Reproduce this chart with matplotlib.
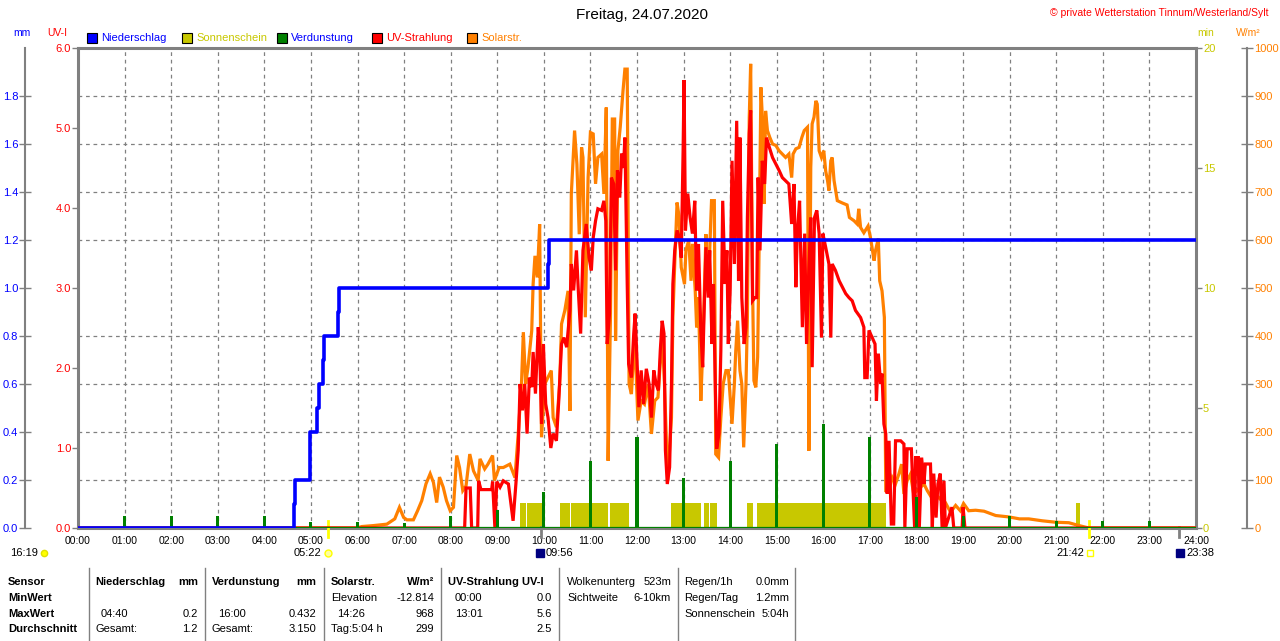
import numpy as np
import matplotlib
matplotlib.use("Agg")
import matplotlib.pyplot as plt
from matplotlib.patches import Rectangle
from matplotlib.lines import Line2D
from matplotlib.ticker import MultipleLocator, FixedLocator

plt.rcParams['font.family'] = ['Liberation Sans', 'DejaVu Sans']

# --- Daten ---
# Solarstrahlung W/m2
sol_t = [0, 6.0, 6.09, 6.34, 6.63, 6.8, 6.9, 6.99, 7.06, 7.2, 7.29, 7.38, 7.47, 7.56, 7.63, 7.7, 7.76,
         7.84, 7.91, 7.99, 8.06, 8.13, 8.19, 8.26, 8.33, 8.41, 8.49, 8.59, 8.63, 8.73, 8.8, 8.9, 8.94,
         9.04, 9.13, 9.27, 9.38, 9.45, 9.52, 9.56, 9.61, 9.66, 9.74, 9.77, 9.81, 9.86, 9.91, 9.95,
         10.02, 10.09, 10.16, 10.2, 10.27, 10.34, 10.38, 10.45, 10.52, 10.56, 10.59, 10.63, 10.66,
         10.71, 10.76, 10.81, 10.84, 10.89, 10.95, 11.0, 11.06, 11.11, 11.16, 11.24, 11.29, 11.34,
         11.38, 11.43, 11.47, 11.52, 11.54, 11.59, 11.64, 11.7, 11.74, 11.79, 11.83, 11.88, 11.95,
         12.02, 12.09, 12.16, 12.24, 12.31, 12.38, 12.45, 12.54, 12.59, 12.66, 12.74, 12.77, 12.82,
         12.86, 12.9, 12.95, 13.02, 13.05, 13.11, 13.16, 13.19, 13.25, 13.28, 13.32, 13.37, 13.41,
         13.48, 13.51, 13.55, 13.6, 13.66, 13.69, 13.75, 13.8, 13.85, 13.91, 13.96, 13.99, 14.04,
         14.09, 14.12, 14.16, 14.21, 14.25, 14.29, 14.34, 14.37, 14.41, 14.44, 14.48, 14.51, 14.55,
         14.59, 14.62, 14.66, 14.69, 14.73, 14.76, 14.8, 14.85, 14.91, 14.98, 15.05, 15.12, 15.19,
         15.26, 15.32, 15.35, 15.41, 15.48, 15.54, 15.59, 15.66, 15.69, 15.73, 15.76, 15.8, 15.84,
         15.87, 15.91, 15.96, 16.01, 16.05, 16.09, 16.12, 16.16, 16.19, 16.23, 16.3, 16.41, 16.51,
         16.56, 16.66, 16.73, 16.76, 16.8, 16.87, 16.96, 17.01, 17.09, 17.12, 17.18, 17.21, 17.26,
         17.31, 17.34, 17.41, 17.48, 17.55, 17.62, 17.68, 17.73, 17.8, 17.87, 17.94, 18.01, 18.09,
         18.16, 18.23, 18.3, 18.41, 18.51, 18.62, 18.73, 18.84, 18.94, 19.01, 19.12, 19.27, 19.45,
         19.7, 19.99, 20.21, 20.41, 20.7, 20.99, 21.27, 21.49, 21.66, 21.7, 24]
sol_v = [0, 0, 3, 5, 8, 19, 43, 22, 17, 17, 36, 57, 92, 113, 95, 53, 106,
         85, 57, 36, 43, 151, 126, 78, 88, 154, 119, 99, 144, 123, 133, 151, 99,
         126, 126, 133, 105, 196, 300, 408, 300, 335, 411, 508, 567, 522, 633, 189,
         300, 314, 328, 230, 210, 300, 425, 453, 494, 244, 696, 772, 828,
         758, 612, 793, 772, 439, 730, 824, 821, 717, 772, 779, 696, 876,
         140, 439, 852, 852, 390, 786, 835, 911, 956, 956, 300, 279, 404,
         224, 265, 258, 300, 196, 265, 272, 404, 300, 99, 230, 439, 578,
         678, 651, 543, 508, 578, 599, 515, 592, 494, 418, 481, 265, 369,
         612, 501, 550, 682, 682, 154, 147, 230, 300, 328, 328, 286, 217,
         300, 369, 432, 328, 300, 168, 300, 439, 856, 967, 508, 307, 293,
         356, 578, 918, 856, 675, 869, 828, 814, 800, 797, 786, 779, 772,
         779, 730, 779, 790, 793, 814, 828, 835, 161, 751, 842, 856, 890,
         883, 786, 772, 786, 744, 724, 703, 765, 772, 724, 682, 677, 673,
         647, 640, 633, 665, 626, 615, 629, 606, 557, 578, 603, 515, 494,
         439, 78, 78, 105, 92, 112, 133, 71, 99, 112, 71, 78, 85,
         92, 78, 67, 71, 60, 53, 33, 47, 36, 51, 36, 37, 35,
         26, 23, 19, 19, 15, 12, 11, 5, 1, 0, 0]

# UV-Index
uv_t = [0, 8.3, 8.33, 8.42, 8.45, 8.58, 8.6, 8.65, 8.88, 8.9, 8.95, 8.99, 9.06, 9.13, 9.24, 9.34,
        9.4, 9.45, 9.49, 9.54, 9.59, 9.64, 9.69, 9.74, 9.77, 9.82, 9.88, 9.91, 9.95, 9.99, 10.04,
        10.09, 10.15, 10.2, 10.27, 10.32, 10.38, 10.43, 10.49, 10.56, 10.59, 10.64, 10.7, 10.74,
        10.79, 10.84, 10.91, 10.97, 11.02, 11.06, 11.11, 11.16, 11.24, 11.29, 11.33, 11.36, 11.41,
        11.45, 11.5, 11.54, 11.58, 11.63, 11.67, 11.71, 11.74, 11.79, 11.82, 11.88, 11.93, 11.96,
        12.0, 12.04, 12.09, 12.14, 12.2, 12.26, 12.31, 12.36, 12.41, 12.46, 12.5, 12.54, 12.58,
        12.61, 12.65, 12.7, 12.74, 12.77, 12.81, 12.86, 12.91, 12.95, 12.99, 13.01, 13.04, 13.09,
        13.14, 13.19, 13.24, 13.28, 13.32, 13.37, 13.41, 13.44, 13.48, 13.53, 13.56, 13.61, 13.64,
        13.68, 13.71, 13.76, 13.8, 13.84, 13.89, 13.93, 13.96, 14.0, 14.04, 14.09, 14.14, 14.18,
        14.21, 14.25, 14.3, 14.34, 14.37, 14.41, 14.44, 14.48, 14.53, 14.57, 14.6, 14.64, 14.69,
        14.74, 14.78, 14.84, 14.91, 14.98, 15.05, 15.12, 15.19, 15.26, 15.32, 15.37, 15.41, 15.44,
        15.49, 15.55, 15.6, 15.64, 15.69, 15.73, 15.76, 15.81, 15.86, 15.91, 15.96, 15.99, 16.05,
        16.12, 16.16, 16.19, 16.26, 16.34, 16.41, 16.48, 16.55, 16.62, 16.69, 16.8, 16.87, 16.89,
        16.94, 16.98, 17.05, 17.11, 17.14, 17.18, 17.23, 17.26, 17.3, 17.34, 17.37, 17.41, 17.46,
        17.51, 17.55, 17.66, 17.73, 17.75, 17.8, 17.89, 17.92, 17.96, 17.98, 18.04, 18.06, 18.11,
        18.16, 18.19, 18.3, 18.34, 18.37, 18.42, 18.46, 18.51, 18.55, 18.59, 18.62, 18.76, 18.8,
        18.98, 19.0, 19.04, 24]
uv_v = [0, 0, 0.5, 0.5, 0, 0, 0.59, 0.48, 0.48, 0.58, 0, 0.58, 0.51, 0.59, 0.55, 0.09,
        0.55, 0.97, 1.8, 1.47, 1.8, 1.18, 1.88, 1.76, 2.2, 1.68, 2.51, 2.26, 1.3, 2.3, 1.55,
        1.38, 1.0, 1.18, 1.09, 1.59, 2.3, 2.38, 2.26, 2.72, 3.3, 2.97, 3.47, 2.97,
        2.43, 3.47, 3.8, 3.38, 3.22, 3.63, 3.84, 3.99, 3.97, 4.09, 3.84, 2.3, 2.68,
        4.38, 4.3, 3.22, 4.47, 4.13, 4.68, 4.5, 4.88, 3.05, 2.05, 1.88, 2.43, 2.68,
        2.09, 1.51, 1.97, 1.55, 1.99, 1.8, 1.38, 1.97, 1.8, 1.72, 2.22, 2.59, 2.43,
        0.97, 0.55, 0.76, 1.8, 3.05, 3.47, 3.72, 3.63, 3.38, 4.72, 5.6, 3.72, 4.18,
        3.88, 3.68, 4.09, 2.97, 3.55, 2.47, 2.01, 2.68, 3.51, 2.88, 3.47, 2.3, 3.05,
        1.8, 0.99, 1.18, 2.22, 4.09, 3.05, 3.47, 2.3, 2.97, 4.59, 3.3, 5.09, 3.09,
        4.88, 2.88, 2.3, 2.51, 3.88, 4.93, 5.22, 2.84, 2.88, 2.88, 4.38, 3.47, 4.59,
        4.3, 4.88, 4.76, 4.63, 4.55, 4.47, 4.38, 4.34, 4.3, 3.8, 4.3, 3.01, 3.68,
        4.09, 2.51, 3.68, 2.3, 3.26, 3.88, 2.01, 3.88, 3.97, 3.68, 2.38, 3.68, 3.51,
        3.3, 2.38, 3.3, 3.22, 3.09, 3.01, 2.93, 2.88, 2.84, 2.72, 2.63, 2.51, 1.88,
        1.88, 2.47, 2.38, 2.3, 1.59, 2.18, 1.8, 1.93, 1.3, 1.18, 0.43, 1.09, 0.05,
        0.05, 1.09, 1.09, 1.05, 0, 0.99, 0.99, 0.55, 0, 0.88, 0.88, 0, 0.88,
        0.55, 0.8, 0.8, 0, 0.68, 0.13, 0.55, 0.68, 0, 0.59, 0, 0.26, 0,
        0, 0.26, 0, 0]

# Niederschlag (Tagessumme, mm)
rain_t = [0, 4.63, 4.66, 4.97, 4.99, 5.14, 5.17, 5.25, 5.29, 5.58, 5.61, 10.08, 10.12, 24]
rain_v = [0, 0.1, 0.2, 0.3, 0.4, 0.5, 0.6, 0.7, 0.8, 0.9, 1.0, 1.1, 1.2, 1.2]

# Verdunstung (mm)
evap_t = list(range(1, 24))
evap_v = [0.05, 0.05, 0.05, 0.05, 0.025, 0.025, 0.022, 0.05, 0.075, 0.15, 0.28, 0.38, 0.21,
          0.28, 0.35, 0.432, 0.38, 0.13, 0.05, 0.05, 0.03, 0.03, 0.03]

# Sonnenschein (min)
sun_start = [9.486, 9.643, 10.343, 10.579, 11.414, 12.74, 13.429, 13.564, 14.364, 14.586, 21.43]
sun_end = [9.607, 9.971, 10.557, 11.386, 11.829, 13.379, 13.55, 13.714, 14.486, 17.336, 21.5]
sun_min = [1.04] * len(sun_start)

# Auf-/Untergang
ev_sun = [5 + 22 / 60, 21 + 42 / 60]
ev_moon = [9 + 56 / 60, 23 + 38 / 60]

hours = list(range(25))
hour_labels = [f"{h:02d}:00" for h in hours]

BLUE = '#0000ff'; RED = '#ff0000'; ORANGE = '#ff8000'
OLIVE = '#c8c800'; GREEN = '#008000'; GRAY = '#808080'

W, H = 1280, 641
fig = plt.figure(figsize=(12.8, 6.41), dpi=100)
def P(x, y):
    return (x / W, 1 - y / H)

ax = fig.add_axes([78 / W, 1 - 528 / H, (1196 - 78) / W, 480 / H])
ax.set_xlim(0, 24); ax.set_ylim(0, 20)
ax.xaxis.set_major_locator(FixedLocator(hours))
ax.set_xticklabels(hour_labels)
ax.yaxis.set_major_locator(FixedLocator([0, 5, 10, 15, 20]))
ax.yaxis.set_minor_locator(MultipleLocator(2))
ax.grid(which='minor', axis='y', color=GRAY, ls=(0, (3, 3)), lw=0.9)
ax.grid(which='major', axis='x', color=GRAY, ls=(0, (3, 3)), lw=0.9)
for s in ax.spines.values():
    s.set_color(GRAY); s.set_linewidth(2.2)
ax.bar(sun_start, sun_min, width=np.array(sun_end) - np.array(sun_start), align='edge',
       color=OLIVE, zorder=2)

# Solarstrahlung
ax_w = ax.twinx()
ax_w.set_ylim(0, 1000)
for k, s in ax_w.spines.items():
    s.set_visible(k == 'right')
ax_w.spines['right'].set_position(('outward', 37))
ax_w.spines['right'].set_color(GRAY); ax_w.spines['right'].set_linewidth(1.5)
ax_w.yaxis.set_major_locator(MultipleLocator(100))
ax_w.tick_params(axis='y', direction='inout', length=8, width=1, color=GRAY, labelcolor=ORANGE,
                 labelsize=8, pad=1)
ax_w.plot(sol_t, sol_v, color=ORANGE, lw=2.3, solid_joinstyle='miter')

# UV
ax_uv = ax.twinx()
ax_uv.set_ylim(0, 6)
for s in ax_uv.spines.values():
    s.set_visible(False)
ax_uv.yaxis.tick_left(); ax_uv.yaxis.set_label_position('left')
ax_uv.yaxis.set_major_locator(MultipleLocator(1))
ax_uv.yaxis.set_major_formatter(lambda v, p: f"{v:.1f}")
ax_uv.tick_params(axis='y', length=4, width=1, color=GRAY, labelcolor=RED, labelsize=8, pad=1)
ax_uv.plot(uv_t, uv_v, color=RED, lw=2.3, solid_joinstyle='miter')

# Niederschlag / Verdunstung
ax_mm = ax.twinx()
ax_mm.set_ylim(0, 2.0)
for k, s in ax_mm.spines.items():
    s.set_visible(k == 'left')
ax_mm.spines['left'].set_position(('outward', 38))
ax_mm.spines['left'].set_color(GRAY); ax_mm.spines['left'].set_linewidth(1.5)
ax_mm.yaxis.tick_left(); ax_mm.yaxis.set_label_position('left')
ax_mm.yaxis.set_major_locator(FixedLocator(np.round(np.arange(0, 1.81, 0.2), 1)))
ax_mm.yaxis.set_major_formatter(lambda v, p: f"{v:.1f}")
ax_mm.tick_params(axis='y', direction='inout', length=8, width=1, color=GRAY, labelcolor=BLUE,
                  labelsize=8, pad=1)
ax_mm.bar(evap_t, evap_v, width=0.065, color=GREEN, zorder=3)
ax_mm.axhline(0, color=GREEN, lw=1.6, zorder=3)
ax_mm.plot(rain_t, rain_v, color=BLUE, lw=2.6, drawstyle='steps-post', zorder=4)

# Minuten-Achse rechts (twinx setzt sie sonst nach links)
ax.yaxis.set_ticks_position('right')
ax.tick_params(axis='x', length=0, pad=6, labelsize=7.5)
ax.tick_params(axis='y', which='major', left=False, labelleft=False, right=True, labelright=True,
               length=4, width=1, color=GRAY, labelcolor=OLIVE, labelsize=8, pad=1)
ax.tick_params(axis='y', which='minor', left=False, right=False)

# Markierungen Sonne / Mond
for t in ev_sun:
    ax.axvline(t, ymin=-9 / 480, ymax=7 / 480, color='#ffff00', lw=2, clip_on=False, zorder=6)
for t in ev_moon:
    ax.axvline(t, ymin=-9 / 480, ymax=1 / 480, color=GRAY, lw=2, clip_on=False, zorder=6)

# Kopf
fig.text(*P(642, 15), "Freitag, 24.07.2020", ha='center', va='center', fontsize=11)
fig.text(*P(1269, 13), "© private Wetterstation Tinnum/Westerland/Sylt", ha='right', va='center',
         fontsize=7.5, color=RED)
fig.text(*P(22, 33), "mm", ha='center', va='center', fontsize=7.5, color=BLUE)
fig.text(*P(57, 33), "UV-I", ha='center', va='center', fontsize=7.5, color=RED)
fig.text(*P(1206, 33), "min", ha='center', va='center', fontsize=7.5, color=OLIVE)
fig.text(*P(1248, 33), "W/m²", ha='center', va='center', fontsize=7.5, color=ORANGE)

leg = [(87, BLUE, "Niederschlag", BLUE), (182, OLIVE, "Sonnenschein", OLIVE),
       (277, GREEN, "Verdunstung", BLUE), (372, RED, "UV-Strahlung", RED),
       (467, ORANGE, "Solarstr.", ORANGE)]
for x, fc, txt, tc in leg:
    fig.patches.append(Rectangle(P(x, 43), 10 / W, 10 / H, transform=fig.transFigure,
                                 facecolor=fc, edgecolor='black', lw=0.8))
    fig.text(*P(x + 14, 38), txt, ha='left', va='center', fontsize=8, color=tc)

# Zeiten unter der Achse
fig.text(*P(38, 553), "16:19", ha='right', va='center', fontsize=8)
fig.text(*P(321, 553), "05:22", ha='right', va='center', fontsize=8)
fig.text(*P(546, 553), "09:56", ha='left', va='center', fontsize=8)
fig.text(*P(1084, 553), "21:42", ha='right', va='center', fontsize=8)
fig.text(*P(1186, 553), "23:38", ha='left', va='center', fontsize=8)
for x, mk, fc, ec, ms in [(44, 'o', '#ffff00', '#e0e000', 4.5), (328, 'o', '#ffffa0', '#ffff00', 5),
                          (540, 's', '#000080', '#000080', 6), (1090, 's', 'white', '#ffff00', 4),
                          (1180, 's', '#000080', '#000080', 6)]:
    fig.add_artist(Line2D([x / W], [1 - 553 / H], marker=mk, markersize=ms, markerfacecolor=fc,
                          markeredgecolor=ec, transform=fig.transFigure))

# Tabelle
for x in [89, 205, 324, 441, 559, 678, 795]:
    fig.add_artist(Line2D([x / W, x / W], [1 - 568 / H, 0], color=GRAY, lw=1,
                          transform=fig.transFigure))
rows = [582, 598, 614, 629]
bold = dict(fontsize=8, fontweight='bold', va='center')
norm = dict(fontsize=8, va='center')
for y, t in zip(rows, ["Sensor", "MinWert", "MaxWert", "Durchschnitt"]):
    fig.text(*P(8, y), t, ha='left', **bold)
heads = [(95, "Niederschlag", 198, "mm"), (212, "Verdunstung", 316, "mm"),
         (331, "Solarstr.", 434, "W/m²"), (448, "UV-Strahlung UV-I", None, None)]
for xl, tl, xr, tr in heads:
    fig.text(*P(xl, rows[0]), tl, ha='left', **bold)
    if tr:
        fig.text(*P(xr, rows[0]), tr, ha='right', **bold)
cells = [
    (101, 614, "04:40", 198, "0.2"), (95, 629, "Gesamt:", 198, "1.2"),
    (218, 614, "16:00", 316, "0.432"), (212, 629, "Gesamt:", 316, "3.150"),
    (331, 598, "Elevation", 434, "-12.814"), (337, 614, "14:26", 434, "968"),
    (331, 629, "Tag:5:04 h", 434, "299"),
    (455, 598, "00:00", 552, "0.0"), (455, 614, "13:01", 552, "5.6"), (455, 629, "", 552, "2.5"),
    (567, 582, "Wolkenunterg", 671, "523m"), (567, 598, "Sichtweite", 671, "6-10km"),
    (684, 582, "Regen/1h", 789, "0.0mm"), (684, 598, "Regen/Tag", 789, "1.2mm"),
    (684, 614, "Sonnenschein", 789, "5:04h"),
]
for xl, y, tl, xr, tr in cells:
    fig.text(*P(xl, y), tl, ha='left', **norm)
    fig.text(*P(xr, y), tr, ha='right', **norm)

fig.savefig("out.png", dpi=100)
